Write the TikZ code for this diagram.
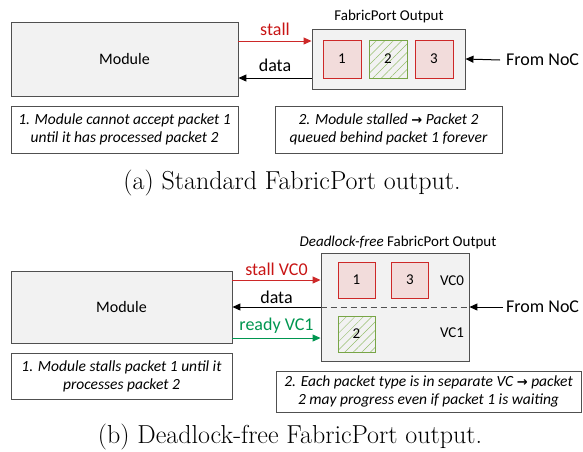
\documentclass[tikz,border=0pt]{standalone}
\usepackage{fontspec}
\setsansfont{Carlito}
\newfontfamily\symf{DejaVu Sans}
\usetikzlibrary{arrows.meta,patterns.meta}
\definecolor{boxgray}{RGB}{242,242,242}
\definecolor{edgegray}{RGB}{80,80,80}
\definecolor{pktfill}{RGB}{242,220,219}
\definecolor{pktred}{RGB}{205,40,40}
\definecolor{stallred}{RGB}{200,20,20}
\definecolor{stallline}{RGB}{220,70,70}
\definecolor{hatchgreen}{RGB}{150,190,110}
\definecolor{greenedge}{RGB}{120,165,70}
\definecolor{readygreen}{RGB}{0,150,80}
\definecolor{readyline}{RGB}{50,170,100}
\newcommand{\myarr}{{\symf\bfseries\fontsize{13}{13}\selectfont\raisebox{0.3pt}{→}}}
\tikzset{
  every node/.style={font=\sffamily},
  modbox/.style={draw=edgegray, fill=boxgray, line width=0.9pt, inner sep=0pt, font=\sffamily\fontsize{16}{19}\selectfont},
  notebox/.style={draw=edgegray, fill=white, line width=0.9pt, inner sep=0pt, align=center, font=\sffamily\itshape\fontsize{15.5}{18}\selectfont},
  fpbox/.style={draw=edgegray, fill=boxgray, line width=0.9pt, inner sep=0pt},
  redpkt/.style={draw=pktred, fill=pktfill, line width=0.8pt, inner sep=0pt, font=\sffamily\fontsize{15}{18}\selectfont},
  greenpkt/.style={draw=greenedge, line width=0.8pt, inner sep=0pt, font=\sffamily\fontsize{15}{18}\selectfont,
     pattern={Lines[angle=45,distance=6pt,line width=0.5pt]}, pattern color=hatchgreen},
  lbl/.style={font=\sffamily\fontsize{18}{20}\selectfont, inner sep=0pt},
  titlelbl/.style={font=\sffamily\fontsize{15}{18}\selectfont, inner sep=0pt},
  vclbl/.style={font=\sffamily\fontsize{15}{18}\selectfont, inner sep=0pt},
  caplbl/.style={font=\rmfamily\fontsize{26}{30}\selectfont, inner sep=0pt},
  stallarr/.style={draw=stallline, line width=1pt, -{Triangle[length=8pt,width=7pt]}, pktred},
  readyarr/.style={draw=readyline, line width=1pt, -{Triangle[length=8pt,width=7pt]}, readygreen},
  dataarr/.style={draw=edgegray, line width=1pt, -{Triangle[length=8pt,width=7pt]}, black},
}
\begin{document}
\begin{tikzpicture}[x=1pt,y=-1pt]
\useasboundingbox (0,0) rectangle (583,451);
% ---------- part (a) ----------
\node[modbox, minimum width=227pt, minimum height=74pt] (mod) at (124.5,59) {Module};
\node[notebox, minimum width=227pt, minimum height=47pt] (n1a) at (124.5,129.5)
  {1. Module cannot accept packet 1\\until it has processed packet 2};
\node[fpbox, minimum width=153pt, minimum height=60pt] (fp) at (388.5,59) {};
\node[titlelbl] (fpt) at (389,16) {FabricPort Output};
\node[redpkt, minimum width=38pt, minimum height=38pt] (p1) at (342,59) {1};
\node[greenpkt, minimum width=38pt, minimum height=38pt] (p2) at (388,59) {2};
\node[redpkt, minimum width=38pt, minimum height=38pt] (p3) at (434,59) {3};
\node[lbl, anchor=west] (noc) at (506,60) {From NoC};
\draw[dataarr] ([xshift=-6pt]noc.west) -- (fp.east);
\draw[stallarr] ([yshift=18pt]mod.east) -- ([yshift=18pt]mod.east -| fp.west)
  node[lbl, midway, above=5pt, text=stallred] (stl) {stall};
\draw[dataarr] ([yshift=-19pt]mod.east -| fp.west) -- ([yshift=-19pt]mod.east)
  node[lbl, midway, above=6pt] (dta) {data};
\node[notebox, minimum width=227pt, minimum height=47pt] (n2a) at (388.5,129.5)
  {2. Module stalled \myarr\ Packet 2\\queued behind packet 1 forever};
\node[caplbl] (capa) at (292,183) {(a) Standard FabricPort output.};
% ---------- part (b) ----------
\node[modbox, minimum width=221pt, minimum height=72pt] (modb) at (121.5,307) {Module};
\node[notebox, minimum width=221pt, minimum height=46pt] (n1b) at (121.5,376)
  {1. Module stalls packet 1 until it\\processes packet 2};
\node[fpbox, minimum width=148pt, minimum height=108pt] (fpb) at (395,307) {};
\node[titlelbl] (fpbt) at (398,242) {\itshape Deadlock-free\upshape\ FabricPort Output};
\node[redpkt, minimum width=37pt, minimum height=36pt] (q1) at (356.5,280) {1};
\node[redpkt, minimum width=37pt, minimum height=36pt] (q3) at (410,280) {3};
\node[greenpkt, minimum width=37pt, minimum height=36pt] (q2) at (356.5,334) {2};
\node[vclbl] (vc0) at (452,281) {VC0};
\node[vclbl] (vc1) at (452,333) {VC1};
\draw[draw=edgegray, line width=1pt, dash pattern=on 6pt off 4pt] (fpb.west) -- (fpb.east);
\node[lbl, anchor=west] (nocb) at (506,307) {From NoC};
\draw[dataarr] ([xshift=-3pt]nocb.west) -- (fpb.east);
\draw[stallarr] ([yshift=27pt]modb.east) -- ([yshift=27pt]modb.east -| fpb.west)
  node[lbl, midway, above=4pt, text=stallred] (stlb) {stall VC0};
\draw[dataarr] (modb.east -| fpb.west) -- (modb.east)
  node[lbl, midway, above=3pt] (dtab) {data};
\draw[readyarr] ([yshift=-31pt]modb.east) -- ([yshift=-31pt]modb.east -| fpb.west)
  node[lbl, midway, above=4pt, text=readygreen] (rdyb) {ready VC1};
\node[notebox, minimum width=305pt, minimum height=41pt] (n2b) at (428.5,391.5)
  {2. Each packet type is in separate VC \myarr\ packet\\2 may progress even if packet 1 is waiting};
\node[caplbl] (capb) at (290,437) {(b) Deadlock-free FabricPort output.};
\end{tikzpicture}
\end{document}
